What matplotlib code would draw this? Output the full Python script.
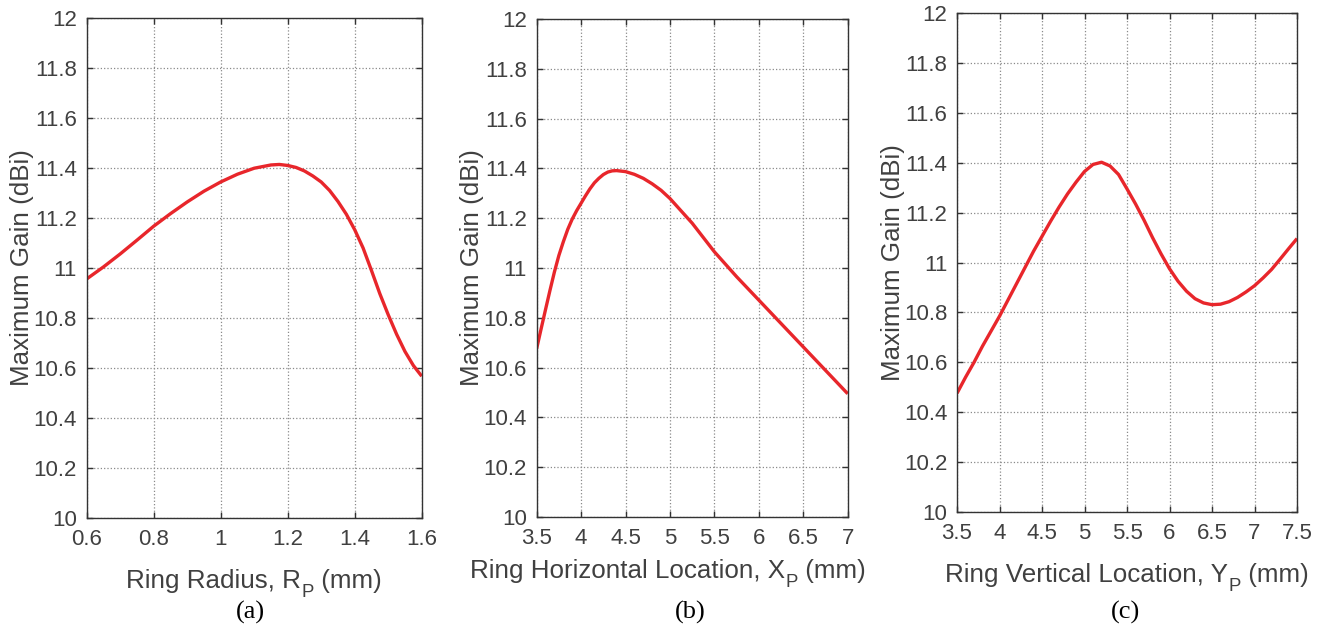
import numpy as np
import matplotlib
matplotlib.use("Agg")
import matplotlib.pyplot as plt

plt.rcParams["font.family"] = ["Liberation Sans", "DejaVu Sans"]

# (a) gain vs ring radius
radius = [0.6, 0.65, 0.7, 0.75, 0.8, 0.85, 0.9, 0.95, 1.0, 1.05, 1.1, 1.15, 1.175,
          1.2, 1.225, 1.25, 1.275, 1.3, 1.325, 1.35, 1.375, 1.4, 1.425, 1.45, 1.475,
          1.5, 1.525, 1.55, 1.575, 1.6]
gain_a = [10.956, 11.004, 11.056, 11.111, 11.167, 11.217, 11.264, 11.307, 11.344,
          11.375, 11.399, 11.412, 11.414, 11.410, 11.402, 11.388, 11.368, 11.344,
          11.310, 11.266, 11.215, 11.153, 11.080, 10.990, 10.897, 10.813, 10.735,
          10.666, 10.610, 10.567]

# (b) gain vs horizontal location
x_loc = [3.5, 3.55, 3.6, 3.65, 3.7, 3.75, 3.8, 3.85, 3.9, 3.95, 4.0, 4.05, 4.1, 4.15,
         4.2, 4.25, 4.3, 4.35, 4.4, 4.5, 4.6, 4.7, 4.8, 4.9, 5.0, 5.25, 5.5, 5.75,
         6.0, 6.25, 6.5, 6.75, 7.0]
gain_b = [10.676, 10.755, 10.833, 10.910, 10.984, 11.050, 11.105, 11.155, 11.196,
          11.230, 11.260, 11.290, 11.318, 11.342, 11.360, 11.375, 11.385, 11.390,
          11.391, 11.387, 11.376, 11.360, 11.338, 11.312, 11.279, 11.180, 11.065,
          10.965, 10.871, 10.777, 10.683, 10.589, 10.495]

# (c) gain vs vertical location
y_loc = [3.5, 3.6, 3.7, 3.8, 3.9, 4.0, 4.1, 4.2, 4.3, 4.4, 4.5, 4.6, 4.7, 4.8, 4.9,
         5.0, 5.1, 5.2, 5.3, 5.4, 5.5, 5.6, 5.7, 5.8, 5.9, 6.0, 6.1, 6.2, 6.3, 6.4,
         6.5, 6.6, 6.7, 6.8, 6.9, 7.0, 7.1, 7.2, 7.3, 7.4, 7.5]
gain_c = [10.476, 10.540, 10.600, 10.665, 10.725, 10.785, 10.850, 10.915, 10.980,
          11.045, 11.105, 11.165, 11.222, 11.275, 11.322, 11.365, 11.393, 11.402,
          11.387, 11.353, 11.295, 11.235, 11.170, 11.100, 11.035, 10.975, 10.925,
          10.885, 10.855, 10.838, 10.831, 10.833, 10.843, 10.860, 10.882, 10.907,
          10.938, 10.972, 11.013, 11.055, 11.096]

y_ticks = [10, 10.2, 10.4, 10.6, 10.8, 11, 11.2, 11.4, 11.6, 11.8, 12]
y_tick_labels = ["10", "10.2", "10.4", "10.6", "10.8", "11", "11.2", "11.4", "11.6", "11.8", "12"]

W, H = 1327, 630
TXT = "#404040"
RED = "#e8262b"
LABEL_SIZE = 18.7

fig = plt.figure(figsize=(W / 100, H / 100), dpi=100)
renderer = fig.canvas.get_renderer()


def sub_label(head, sub, tail, cx, baseline):
    # axis title with a dropped subscript, centred at cx (pixels from left)
    parts = [(head, LABEL_SIZE, 0), (sub, LABEL_SIZE * 0.72, -9), (tail, LABEL_SIZE, 0)]
    texts = []
    for s, size, dy in parts:
        t = fig.text(0, 0, s, fontsize=size, color=TXT, va="baseline", ha="left")
        texts.append((t, t.get_window_extent(renderer).width, dy))
    total = sum(w for _, w, _ in texts)
    x = cx - total / 2
    for t, w, dy in texts:
        t.set_position((x / W, (H - baseline + dy) / H))
        x += w


panels = [
    # rect, x, y, xlim, xticks, xtick labels, label pieces, label centre/baseline, ylabel x, tag, tag x
    ([0.0653, 0.1778, 0.2525, 0.7937], radius, gain_a, (0.6, 1.6),
     [0.6, 0.8, 1.0, 1.2, 1.4, 1.6], ["0.6", "0.8", "1", "1.2", "1.4", "1.6"],
     ("Ring Radius, R", "P", " (mm)"), (254, 588), -0.193, "(a)", 250),
    ([0.4044, 0.1794, 0.2344, 0.7905], x_loc, gain_b, (3.5, 7.0),
     [3.5, 4, 4.5, 5, 5.5, 6, 6.5, 7], ["3.5", "4", "4.5", "5", "5.5", "6", "6.5", "7"],
     ("Ring Horizontal Location, X", "P", " (mm)"), (668, 578), -0.208, "(b)", 690),
    ([0.7212, 0.1873, 0.2562, 0.7920], y_loc, gain_c, (3.5, 7.5),
     [3.5, 4, 4.5, 5, 5.5, 6, 6.5, 7, 7.5],
     ["3.5", "4", "4.5", "5", "5.5", "6", "6.5", "7", "7.5"],
     ("Ring Vertical Location, Y", "P", " (mm)"), (1127, 582), -0.188, "(c)", 1125),
]

for rect, xs, ys, xlim, xt, xtl, pieces, lpos, ylx, tag, tagx in panels:
    ax = fig.add_axes(rect)
    ax.plot(xs, ys, color=RED, lw=2.4, solid_capstyle="butt", solid_joinstyle="round")
    ax.set_xlim(*xlim)
    ax.set_ylim(10, 12)
    ax.set_xticks(xt)
    ax.set_xticklabels(xtl)
    ax.set_yticks(y_ticks)
    ax.set_yticklabels(y_tick_labels)
    ax.grid(True, ls=":", color="#8a8a8a", lw=0.9)
    for s in ax.spines.values():
        s.set_color("#333333")
        s.set_linewidth(1.0)
    ax.tick_params(direction="in", top=True, right=True, length=4, width=1.0,
                   color="#333333", labelcolor=TXT, labelsize=16)
    ax.tick_params(axis="x", pad=8)
    ax.tick_params(axis="y", pad=7)

    sub_label(*pieces, *lpos)
    ax.set_ylabel("Maximum Gain (dBi)", fontsize=LABEL_SIZE, color=TXT, va="center")
    ax.yaxis.set_label_coords(ylx, 0.5)

    fig.text(tagx / W, 1 - 612 / H, tag, family=["Liberation Serif", "DejaVu Serif"],
             fontsize=19, color="black", ha="center", va="center")

fig.savefig("out.png", dpi=100)
